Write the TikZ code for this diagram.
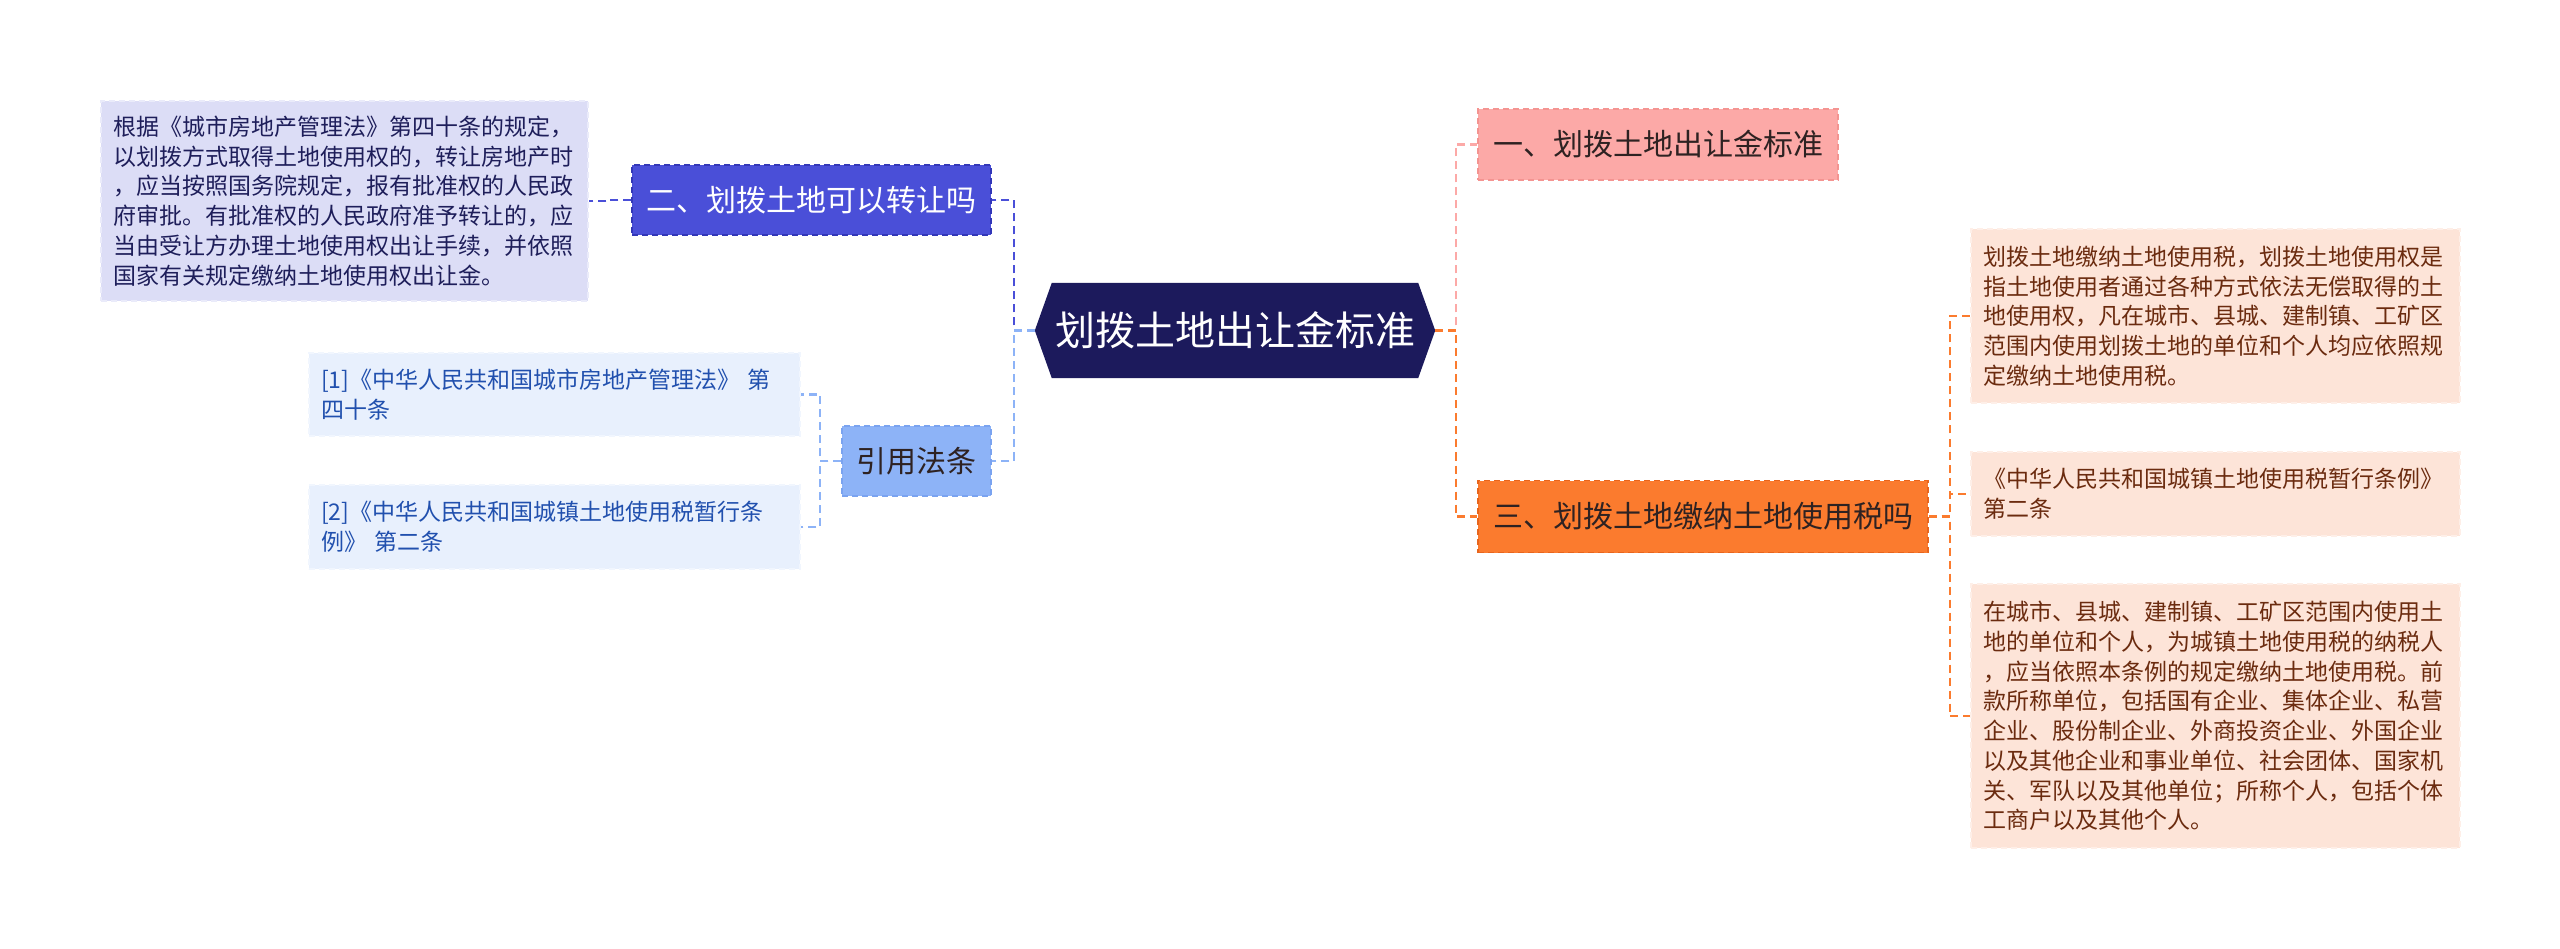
\documentclass[tikz,border=0pt]{standalone}
\usepackage{fontspec}
\setmainfont{Noto Sans CJK SC}
\usetikzlibrary{calc,backgrounds}
\definecolor{rootc}{HTML}{1C1A5C}
\definecolor{lavfill}{HTML}{DCDDF6}
\definecolor{lavtext}{HTML}{1E1E5A}
\definecolor{bluef}{HTML}{4A4FD8}
\definecolor{bluel}{HTML}{3337B8}
\definecolor{ltbluef}{HTML}{8DB3F7}
\definecolor{ltbluel}{HTML}{7AA3F0}
\definecolor{citef}{HTML}{E8F0FD}
\definecolor{citet}{HTML}{2150AE}
\definecolor{pinkf}{HTML}{FCA9A7}
\definecolor{pinkl}{HTML}{F49491}
\definecolor{orangef}{HTML}{FB7B2E}
\definecolor{orangel}{HTML}{E8651C}
\definecolor{peachf}{HTML}{FDE4D8}
\definecolor{peacht}{HTML}{6B2B0F}
\definecolor{darkt}{HTML}{2E2222}
\tikzset{
  box/.style={rectangle, dashed, dash pattern=on 6pt off 4pt, line width=1.5pt, inner sep=0pt, align=center},
  bigtxt/.style={font=\fontsize{30}{36}\selectfont},
  smalltxt/.style={font=\fontsize{23}{29.7}\selectfont, align=left, inner xsep=12pt, inner ysep=0pt},
  conn/.style={line width=2.2pt, dash pattern=on 8pt off 5pt},
}
\begin{document}
\begin{tikzpicture}[x=1pt,y=-1pt]
\begin{scope}[on background layer]
\fill[white] (0,0) rectangle (2560,949);
\end{scope}
\path[use as bounding box] (0,0) rectangle (2560,949);

% root
\node[rectangle, inner sep=0pt, minimum width=400pt, minimum height=95pt, text=white, font=\fontsize{40}{46}\selectfont] (root) at (1235,330.5) {划拨土地出让金标准};
\begin{scope}[on background layer]
\fill[rootc] (root.west) -- ($(root.north west)+(17pt,0pt)$) -- ($(root.north east)+(-17pt,0pt)$) -- (root.east) -- ($(root.south east)+(-17pt,0pt)$) -- ($(root.south west)+(17pt,0pt)$) -- cycle;
\end{scope}

% left branch
\node[box, bigtxt, fill=bluef, draw=bluel, text=white, minimum width=359pt, minimum height=70pt] (b2) at (811.5,200) {二、划拨土地可以转让吗};
\node[box, smalltxt, fill=lavfill, draw=lavfill!60!white, text=lavtext, text width=463pt, minimum height=200pt] (lbox) at (344.5,201) {根据《城市房地产管理法》第四十条的规定，\\以划拨方式取得土地使用权的，转让房地产时\\，应当按照国务院规定，报有批准权的人民政\\府审批。有批准权的人民政府准予转让的，应\\当由受让方办理土地使用权出让手续，并依照\\国家有关规定缴纳土地使用权出让金。};
\node[box, bigtxt, fill=ltbluef, draw=ltbluel, text=darkt, minimum width=149pt, minimum height=70pt] (cite) at (916.5,461) {引用法条};
\node[box, smalltxt, fill=citef, draw=citef!60!white, text=citet, text width=467pt, minimum height=83pt] (c1) at (554.5,394.5) {[1]《中华人民共和国城市房地产管理法》 第\\四十条};
\node[box, smalltxt, fill=citef, draw=citef!60!white, text=citet, text width=467pt, minimum height=84pt] (c2) at (554.5,527) {[2]《中华人民共和国城镇土地使用税暂行条\\例》 第二条};

% right branch
\node[box, bigtxt, fill=pinkf, draw=pinkl, text=darkt, minimum width=360pt, minimum height=71pt] (b1) at (1658,144.5) {一、划拨土地出让金标准};
\node[box, bigtxt, fill=orangef, draw=orangel, text=darkt, minimum width=450pt, minimum height=72pt] (b3) at (1703,516.5) {三、划拨土地缴纳土地使用税吗};
\node[box, smalltxt, fill=peachf, draw=peachf!60!white, text=peacht, text width=465pt, minimum height=174pt] (r1) at (2215.5,316) {划拨土地缴纳土地使用税，划拨土地使用权是\\指土地使用者通过各种方式依法无偿取得的土\\地使用权，凡在城市、县城、建制镇、工矿区\\范围内使用划拨土地的单位和个人均应依照规\\定缴纳土地使用税。};
\node[box, smalltxt, fill=peachf, draw=peachf!60!white, text=peacht, text width=465pt, minimum height=84pt] (r2) at (2215.5,494) {《中华人民共和国城镇土地使用税暂行条例》\\第二条};
\node[box, smalltxt, fill=peachf, draw=peachf!60!white, text=peacht, text width=465pt, minimum height=264pt] (r3) at (2215.5,716) {在城市、县城、建制镇、工矿区范围内使用土\\地的单位和个人，为城镇土地使用税的纳税人\\，应当依照本条例的规定缴纳土地使用税。前\\款所称单位，包括国有企业、集体企业、私营\\企业、股份制企业、外商投资企业、外国企业\\以及其他企业和事业单位、社会团体、国家机\\关、军队以及其他单位；所称个人，包括个体\\工商户以及其他个人。};

% connectors
\draw[conn, draw=pinkf] (root.east) -- ++(21pt,0pt) |- (b1.west);
\draw[conn, draw=orangef] (root.east) -- ++(21pt,0pt) |- (b3.west);
\draw[conn, draw=bluef] (root.west) -- ++(-21pt,0pt) |- (b2.east);
\draw[conn, draw=ltbluef] (root.west) -- ++(-21pt,0pt) |- (cite.east);
\draw[conn, draw=bluef] (b2.west) -- ++(-22pt,0pt) |- (lbox.east);
\draw[conn, draw=ltbluef] (cite.west) -- ++(-21pt,0pt) |- (c1.east);
\draw[conn, draw=ltbluef] (cite.west) -- ++(-21pt,0pt) |- (c2.east);
\draw[conn, draw=orangef] (b3.east) -- ++(21pt,0pt) |- (r1.west);
\draw[conn, draw=orangef] (b3.east) -- ++(21pt,0pt) |- (r2.west);
\draw[conn, draw=orangef] (b3.east) -- ++(21pt,0pt) |- (r3.west);
\end{tikzpicture}
\end{document}
